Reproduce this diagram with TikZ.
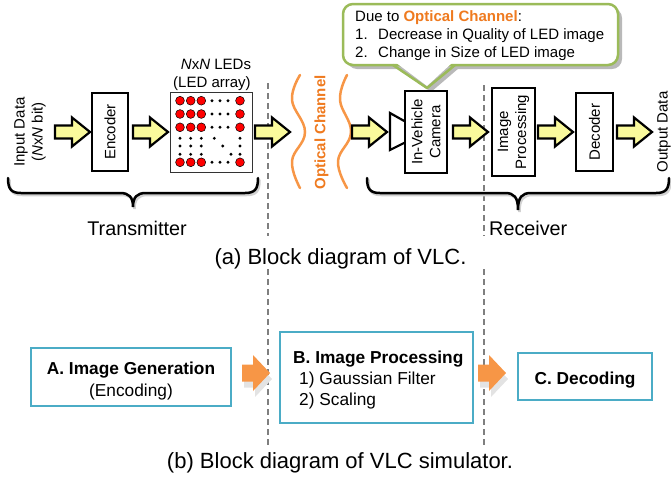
\documentclass[tikz,border=0pt]{standalone}
\usepackage{fontspec}
\setmainfont{Liberation Sans}
\usetikzlibrary{calc}
\definecolor{yel}{HTML}{FAFA9C}
\definecolor{orgtxt}{HTML}{EF7A1F}
\definecolor{orgwave}{HTML}{F79646}
\definecolor{callgreen}{HTML}{9BBB59}
\definecolor{boxteal}{HTML}{4BACC6}
\definecolor{dashgray}{HTML}{7F7F7F}
\definecolor{ledred}{HTML}{FF0000}
\newcommand\szA{\fontsize{15}{18}\selectfont}
\newcommand\szB{\fontsize{17.3}{21}\selectfont}
\newcommand\szC{\fontsize{22}{26}\selectfont}
\newcommand\szT{\fontsize{19.8}{24}\selectfont}
% yellow block arrow: tail x, centre y
\newcommand\yarr[2]{\draw[yarrstyle] (#1,#2) ++(0,-6.5) -- ++(17,0) -- ++(0,-8) -- ++(18,14.5) -- ++(-18,14.5) -- ++(0,-8) -- ++(-17,0) -- cycle;}
% orange block arrow with shadow
\newcommand\oarr[2]{%
  \fill[gray!22, shift={(#1+2,#2+6)}] (0,-8.5) -- (11,-8.5) -- (11,-18) -- (28,0) -- (11,18) -- (11,8.5) -- (0,8.5) -- cycle;
  \fill[orgwave, shift={(#1,#2)}] (0,-8.5) -- (11,-8.5) -- (11,-18) -- (28,0) -- (11,18) -- (11,8.5) -- (0,8.5) -- cycle;}
% brace: left x, right x, tip x, end y, tip y, style
\newcommand\mybrace[6]{\draw[#6] (#1,#4) .. controls (#1,#4+11) and (#1+3,#4+15) .. (#1+13,#4+15) -- (#3-13,#4+15) .. controls (#3-4,#4+15) and (#3,#4+19) .. (#3,#5) .. controls (#3,#4+19) and (#3+4,#4+15) .. (#3+13,#4+15) -- (#2-13,#4+15) .. controls (#2-3,#4+15) and (#2,#4+11) .. (#2,#4);}
\begin{document}
\begin{tikzpicture}[x=1pt,y=-1pt,
  bbox/.style={draw=black, line width=2.5, fill=white, inner sep=0, font=\szA, align=center},
  tbox/.style={draw=boxteal, line width=2.5, fill=white, inner sep=0},
  yarrstyle/.style={draw=black, fill=yel, line width=2.2, line join=miter},
  dashline/.style={dashgray, line width=1.4, dash pattern=on 6 off 4},
  wave/.style={orgwave, line width=2.5, line cap=round},
  bracestyle/.style={line width=2.5, line cap=round},
  bshadow/.style={line width=2.5, line cap=round, gray!35, shift={(1.5,2)}},
  lbl/.style={inner sep=0, font=\szA}]
\useasboundingbox (0,0) rectangle (671,483);

% dashed separators
\draw[dashline] (268,83) -- (268,236);
\draw[dashline] (268,269) -- (268,445);
\draw[dashline] (484,85) -- (484,236);
\draw[dashline] (484,269) -- (484,445);

% callout
\fill[gray!55, shift={(4,4)}, rounded corners=10] (343,4) rectangle (618,65);
\fill[gray!55, shift={(4,4)}] (393,64) -- (427,88) -- (455,64) -- cycle;
\draw[callgreen, line width=2.5, fill=white, rounded corners=10] (343,4) rectangle (618,65);
\fill[white] (395,62) -- (453,62) -- (427,86) -- cycle;
\draw[callgreen, line width=2.5, line join=round] (393,65) -- (427,88) -- (455,65);
\node[lbl, anchor=base west] (c0) at (355,21.7) {Due to \textcolor{orgtxt}{\bfseries Optical Channel}:};
\node[lbl, anchor=base west] (c1n) at (355,39.5) {1.};
\node[lbl, anchor=base west] (c1) at (378,39.5) {Decrease in Quality of LED image};
\node[lbl, anchor=base west] (c2n) at (355,57.5) {2.};
\node[lbl, anchor=base west] (c2) at (378,57.5) {Change in Size of LED image};

% top row
\node[lbl, rotate=90, align=center] (indata) at (30,132) {Input Data\\(\textit{N}x\textit{N} bit)};
\yarr{55}{132}
\node[bbox, rotate=90, minimum width=78, minimum height=36] (enc) at (110,132) {Encoder};
\yarr{133}{132}
\node[draw=black!80, line width=1, fill=white, minimum width=82, minimum height=80, inner sep=0] (led) at (211,132) {};
\foreach \yy in {100.7,114,127.3,162.3} {
  \foreach \xx in {180,190.7,201.3,240} \draw[fill=ledred, line width=0.5] (\xx,\yy) circle (4.4);
  \foreach \xx in {212,220,228} \fill (\xx,\yy) circle (1.6);
}
\foreach \yy/\dx in {138.3/214.3, 146/222.7, 154.3/231} {
  \foreach \xx in {180,190.7,201.3,240,\dx} \fill (\xx,\yy) circle (1.6);
}
\node[lbl, anchor=base] (ledt1) at (216,69.3) {\textit{N}x\textit{N} LEDs};
\node[lbl, anchor=base] (ledt2) at (212,87.7) {(LED array)};
\yarr{255}{132}

\draw[wave] plot[smooth, tension=0.7] coordinates {(300,75) (292,100) (305,132) (292,161) (300,188)};
\draw[wave] plot[smooth, tension=0.7] coordinates {(347,75) (340,100) (351,132) (338,161) (347,188)};
\node[lbl, rotate=90, font=\szA\bfseries, text=orgtxt] (optch) at (321.5,132.5) {Optical Channel};

\yarr{352}{132}
\draw[line width=2.2, fill=white, line join=miter] (406,122) -- (390,113) -- (390,150) -- (406,142);
\node[bbox, rotate=90, minimum width=82, minimum height=42] (cam) at (426,132) {In-Vehicle\\Camera};
\yarr{453}{132}
\node[bbox, rotate=90, minimum width=88, minimum height=43] (imgp) at (513.5,132) {Image\\Processing};
\yarr{538}{132}
\node[bbox, rotate=90, minimum width=78, minimum height=37] (dec) at (594.5,132) {Decoder};
\yarr{617}{132}
\node[lbl, rotate=90] (outdata) at (664,132) {Output Data};

% braces
\mybrace{8}{258}{133}{178}{207}{bshadow}
\mybrace{8}{258}{133}{178}{207}{bracestyle}
\mybrace{367}{669}{518}{178}{210}{bshadow}
\mybrace{367}{669}{518}{178}{210}{bracestyle}
\node[lbl, font=\szT, anchor=base] (tx) at (137,235) {Transmitter};
\node[lbl, font=\szT, anchor=base west] (rx) at (489,235) {Receiver};

\node[lbl, font=\szC, anchor=base] (capa) at (340.5,264) {(a) Block diagram of VLC.};

% bottom row
\node[tbox, minimum width=200, minimum height=58] (boxa) at (131,377) {};
\node[lbl, font=\szB\bfseries, anchor=base] (atitle) at (131,374) {A. Image Generation};
\node[lbl, font=\szB, anchor=base] (asub) at (131,396) {(Encoding)};
\oarr{242}{373}
\node[tbox, minimum width=193, minimum height=91] (boxb) at (376.5,377.5) {};
\node[lbl, font=\szB\bfseries, anchor=base west] (btitle) at (293,363) {B. Image Processing};
\node[lbl, font=\szB, anchor=base west] (b1) at (299,384) {1) Gaussian Filter};
\node[lbl, font=\szB, anchor=base west] (b2) at (299,405) {2) Scaling};
\oarr{478}{373}
\node[tbox, minimum width=134, minimum height=47] (boxc) at (585,376.5) {};
\node[lbl, font=\szB\bfseries, anchor=base] (ctitle) at (585,384) {C. Decoding};

\node[lbl, font=\szC, anchor=base] (capb) at (340,468) {(b) Block diagram of VLC simulator.};
\end{tikzpicture}
\end{document}
